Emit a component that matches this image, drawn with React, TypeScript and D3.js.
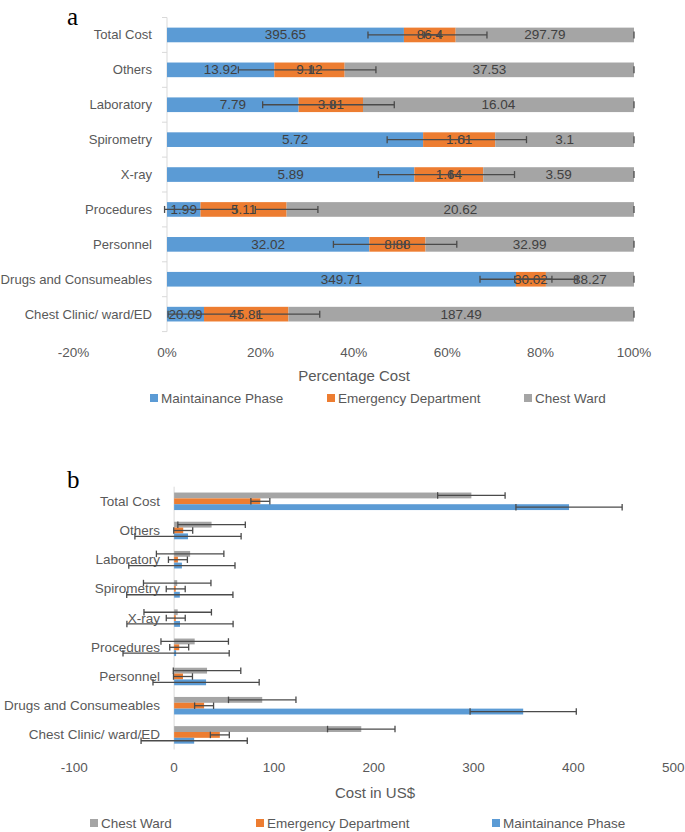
import React from "react";
import * as d3 from "d3";

const categories = [
  "Total Cost",
  "Others",
  "Laboratory",
  "Spirometry",
  "X-ray",
  "Procedures",
  "Personnel",
  "Drugs and Consumeables",
  "Chest Clinic/ ward/ED",
];
const maintenance = [395.65, 13.92, 7.79, 5.72, 5.89, 1.99, 32.02, 349.71, 20.09];
const emergency = [86.4, 9.12, 3.81, 1.61, 1.64, 5.11, 8.88, 30.02, 45.81];
const chestWard = [297.79, 37.53, 16.04, 3.1, 3.59, 20.62, 32.99, 88.27, 187.49];

// error bar half-widths
const errMaintUSD = 53.2;
const errEDUSD = 9.5;
const errCWUSD = 33.8;
const errMaintPct = 0.077;
const errEDPct = 0.067;

const pctTicks = [-0.2, 0, 0.2, 0.4, 0.6, 0.8, 1.0];
const usdTicks = [-100, 0, 100, 200, 300, 400, 500];

const seriesNames = ["Maintainance Phase", "Emergency Department", "Chest Ward"];
const colors = { mp: "#5B9BD5", ed: "#ED7D31", cw: "#A5A5A5" };

const FONT = "'Liberation Sans', Arial, sans-serif";
const TXT = "#595959";
const LBL = "#404040";
const ERR = "#4a4a4a";
const FS = 13.5;
const FSC = 13.1;

function ErrBar({ x0, x1, y, cap = 7 }: { x0: number; x1: number; y: number; cap?: number }) {
  return (
    <g stroke={ERR} strokeWidth={1.3}>
      <line x1={x0} x2={x1} y1={y} y2={y} />
      <line x1={x0} x2={x0} y1={y - cap / 2} y2={y + cap / 2} />
      <line x1={x1} x2={x1} y1={y - cap / 2} y2={y + cap / 2} />
    </g>
  );
}

export default function App() {
  // ---------- top chart (100% stacked) ----------
  const xT = d3.scaleLinear().domain([-0.2, 1]).range([73.6, 634]);
  const yT = d3.scaleBand<string>().domain(categories).range([17.5, 331.6]);
  const barHT = yT.bandwidth() * 0.42;

  const rows = categories.map((c, i) => {
    const tot = maintenance[i] + emergency[i] + chestWard[i];
    const p1 = maintenance[i] / tot;
    const p2 = (maintenance[i] + emergency[i]) / tot;
    return { c, i, p1, p2 };
  });

  // ---------- bottom chart (clustered) ----------
  const xB = d3.scaleLinear().domain([-100, 500]).range([74.3, 673.2]);
  const yB = d3.scaleBand<string>().domain(categories).range([486.7, 749.5]);
  const sub = d3
    .scaleBand<string>()
    .domain(["cw", "ed", "mp"])
    .range([0, yB.bandwidth()])
    .paddingInner(0)
    .paddingOuter(1);

  const bottomSeries = [
    { key: "cw", vals: chestWard, err: errCWUSD },
    { key: "ed", vals: emergency, err: errEDUSD },
    { key: "mp", vals: maintenance, err: errMaintUSD },
  ];

  const topLegend = [
    { name: seriesNames[0], color: colors.mp, x: 150 },
    { name: seriesNames[1], color: colors.ed, x: 327 },
    { name: seriesNames[2], color: colors.cw, x: 524 },
  ];
  const botLegend = [
    { name: seriesNames[2], color: colors.cw, x: 90 },
    { name: seriesNames[1], color: colors.ed, x: 256 },
    { name: seriesNames[0], color: colors.mp, x: 492 },
  ];

  return (
    <svg
      width={685}
      height={832}
      style={{ position: "absolute", left: 0, top: 0, background: "#fff" }}
      fontFamily={FONT}
    >
      <rect width={685} height={832} fill="#fff" />
      {/* ===== Panel a ===== */}
      <text x={67} y={25} fontFamily="'Liberation Serif', 'Times New Roman', serif" fontSize={25} fill="#000">
        a
      </text>
      {categories.map((c) => (
        <text
          key={"tl" + c}
          x={152}
          y={(yT(c) as number) + yT.bandwidth() / 2}
          textAnchor="end"
          dominantBaseline="central"
          fontSize={FSC}
          fill={TXT}
        >
          {c}
        </text>
      ))}
      <line x1={xT(0)} x2={xT(0)} y1={17.5} y2={331.6} stroke="#D9D9D9" strokeWidth={1} />
      {d3.range(categories.length + 1).map((k) => {
        const y = 17.5 + k * yT.step();
        return <line key={"tk" + k} x1={xT(0) - 5} x2={xT(0)} y1={y} y2={y} stroke="#D9D9D9" />;
      })}
      {rows.map((r) => {
        const yc = (yT(r.c) as number) + yT.bandwidth() / 2;
        const y0 = yc - barHT / 2;
        return (
          <g key={"tb" + r.c}>
            <rect x={xT(0)} y={y0} width={xT(r.p1) - xT(0)} height={barHT} fill={colors.mp} />
            <rect x={xT(r.p1)} y={y0} width={xT(r.p2) - xT(r.p1)} height={barHT} fill={colors.ed} />
            <rect x={xT(r.p2)} y={y0} width={xT(1) - xT(r.p2)} height={barHT} fill={colors.cw} />
          </g>
        );
      })}
      {rows.map((r) => {
        const yc = (yT(r.c) as number) + yT.bandwidth() / 2;
        const segs = [
          { v: maintenance[r.i], a: 0, b: r.p1 },
          { v: emergency[r.i], a: r.p1, b: r.p2 },
          { v: chestWard[r.i], a: r.p2, b: 1 },
        ];
        return segs.map((s, j) => (
          <text
            key={"dl" + r.c + j}
            x={xT((s.a + s.b) / 2)}
            y={yc}
            textAnchor="middle"
            dominantBaseline="central"
            fontSize={FS}
            fill={LBL}
          >
            {String(s.v)}
          </text>
        ));
      })}
      {rows.map((r) => {
        const yc = (yT(r.c) as number) + yT.bandwidth() / 2;
        return (
          <g key={"te" + r.c}>
            <ErrBar x0={xT(r.p1 - errMaintPct)} x1={xT(r.p1 + errMaintPct)} y={yc} />
            <ErrBar x0={xT(r.p2 - errEDPct)} x1={xT(r.p2 + errEDPct)} y={yc} />
            <line x1={xT(1)} x2={xT(1)} y1={yc - 3.5} y2={yc + 3.5} stroke={ERR} strokeWidth={1.3} />
          </g>
        );
      })}
      {pctTicks.map((t) => (
        <text key={"pt" + t} x={xT(t)} y={352} textAnchor="middle" dominantBaseline="central" fontSize={FS} fill={TXT}>
          {d3.format(".0%")(t).replace("−", "-")}
        </text>
      ))}
      <text x={354} y={375} textAnchor="middle" dominantBaseline="central" fontSize={15} fill={TXT}>
        Percentage Cost
      </text>
      {topLegend.map((l) => (
        <g key={"tlg" + l.name}>
          <rect x={l.x} y={394} width={8} height={8} fill={l.color} />
          <text x={l.x + 11} y={398} dominantBaseline="central" fontSize={FS} fill={TXT}>
            {l.name}
          </text>
        </g>
      ))}

      {/* ===== Panel b ===== */}
      <text x={67} y={488} fontFamily="'Liberation Serif', 'Times New Roman', serif" fontSize={25} fill="#000">
        b
      </text>
      {categories.map((c) => (
        <text
          key={"bl" + c}
          x={160}
          y={(yB(c) as number) + yB.bandwidth() / 2}
          textAnchor="end"
          dominantBaseline="central"
          fontSize={FS}
          fill={TXT}
        >
          {c}
        </text>
      ))}
      <line x1={xB(0)} x2={xB(0)} y1={486.7} y2={749.5} stroke="#D9D9D9" strokeWidth={1} />
      {bottomSeries.map((s) =>
        categories.map((c, i) => {
          const y0 = (yB(c) as number) + (sub(s.key) as number);
          return (
            <rect
              key={"bb" + s.key + c}
              x={xB(0)}
              y={y0}
              width={xB(s.vals[i]) - xB(0)}
              height={sub.bandwidth()}
              fill={(colors as any)[s.key]}
            />
          );
        })
      )}
      {bottomSeries.map((s) =>
        categories.map((c, i) => {
          const yc = (yB(c) as number) + (sub(s.key) as number) + sub.bandwidth() / 2;
          return (
            <ErrBar
              key={"be" + s.key + c}
              x0={xB(s.vals[i] - s.err)}
              x1={xB(s.vals[i] + s.err)}
              y={yc}
              cap={6.5}
            />
          );
        })
      )}
      {usdTicks.map((t) => (
        <text key={"ut" + t} x={xB(t)} y={767} textAnchor="middle" dominantBaseline="central" fontSize={FS} fill={TXT}>
          {String(t)}
        </text>
      ))}
      <text x={375} y={792} textAnchor="middle" dominantBaseline="central" fontSize={15} fill={TXT}>
        Cost in US$
      </text>
      {botLegend.map((l) => (
        <g key={"blg" + l.name}>
          <rect x={l.x} y={819} width={8} height={8} fill={l.color} />
          <text x={l.x + 11} y={823} dominantBaseline="central" fontSize={FS} fill={TXT}>
            {l.name}
          </text>
        </g>
      ))}
    </svg>
  );
}
